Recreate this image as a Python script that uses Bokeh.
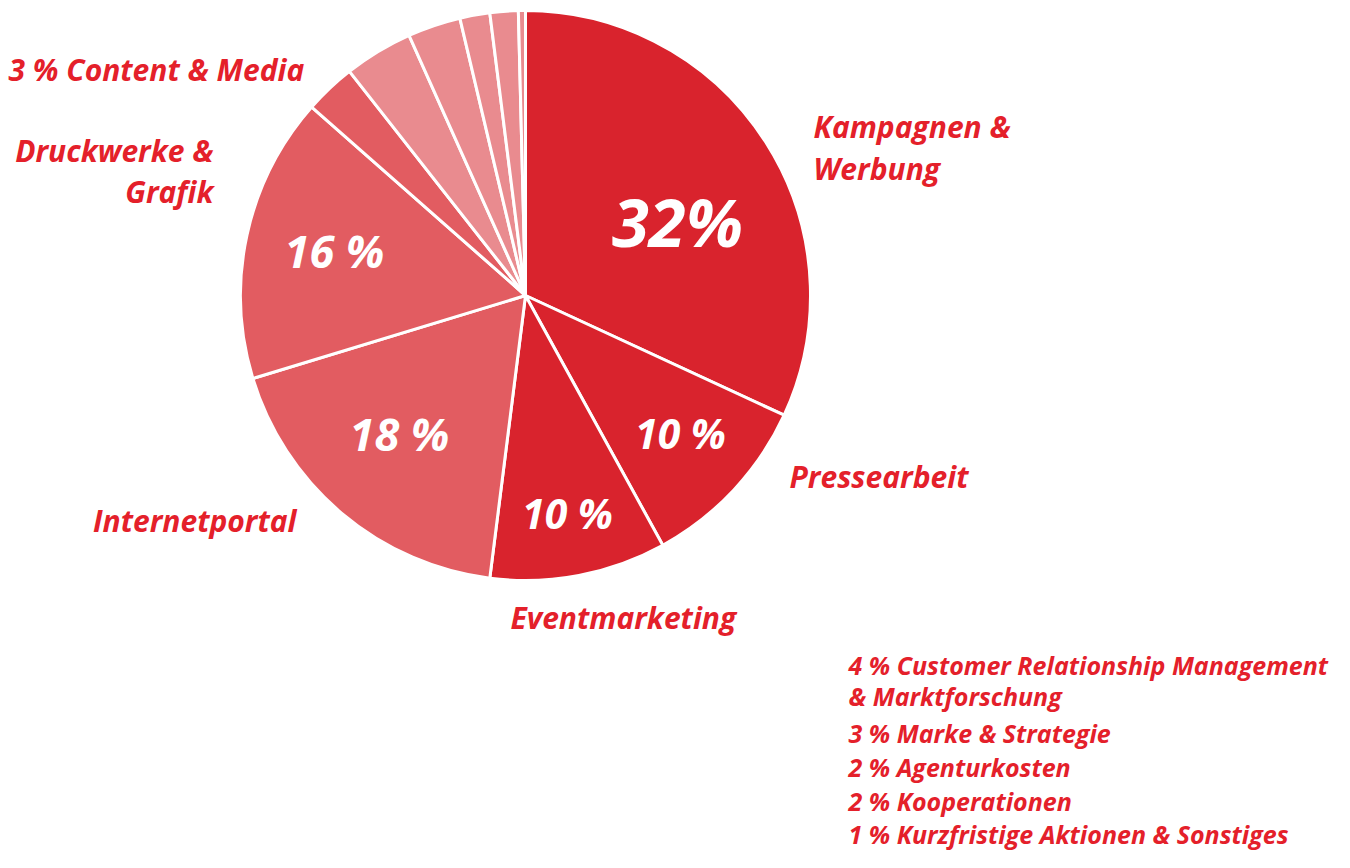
import math
from bokeh.plotting import figure
from bokeh.models import ColumnDataSource, Range1d
from bokeh.core.properties import value
from bokeh.embed import file_html
from bokeh.resources import INLINE

# ---- data ----
categories = ["Kampagnen & Werbung", "Pressearbeit", "Eventmarketing", "Internetportal",
              "Druckwerke & Grafik", "Content & Media",
              "Customer Relationship Management & Marktforschung", "Marke & Strategie",
              "Agenturkosten", "Kooperationen", "Kurzfristige Aktionen & Sonstiges"]
shares = [31.9, 10.1, 10.0, 18.3, 16.2, 2.9, 3.9, 3.0, 1.7, 1.6, 0.4]
shown_pct = [32, 10, 10, 18, 16, 3, 4, 3, 2, 2, 1]
tone = ["dark", "dark", "dark", "mid", "mid", "mid", "light", "light", "light", "light", "light"]

# ---- style ----
W, H = 1334, 852
palette = {"dark": "#D9232D", "mid": "#E25C61", "light": "#E98B8F"}
TXT = "#E4202A"
FONT = "Open Sans"


def P(px, py):
    """picture pixel (top-left origin) -> data coordinates"""
    return px, H - py


CX, CY = P(525, 295)
R = 285

p = figure(width=W, height=H, output_backend="svg", toolbar_location=None,
           x_range=Range1d(0, W), y_range=Range1d(0, H), min_border=0)
p.axis.visible = False
p.grid.visible = False
p.outline_line_color = None
p.background_fill_color = "white"

total = sum(shares)
starts, ends = [], []
cum = 0.0
for s in shares:
    starts.append(math.pi / 2 - 2 * math.pi * cum / total)
    cum += s
    ends.append(math.pi / 2 - 2 * math.pi * cum / total)

src = ColumnDataSource(dict(x=[CX] * len(shares), y=[CY] * len(shares),
                            start=starts, end=ends, color=[palette[t] for t in tone]))
p.wedge(x="x", y="y", radius=R, start_angle="start", end_angle="end", direction="clock",
        fill_color="color", line_color="white", line_width=3, source=src)

# inner percentage labels (first five slices)
inner_pos = [(677, 220), (680, 432), (567, 512), (399, 433), (334, 250)]
sizes = ["67px", "41px", "41px", "45px", "45px"]
for i in range(5):
    txt = f"{shown_pct[i]}%" if i == 0 else f"{shown_pct[i]} %"
    x, y = P(*inner_pos[i])
    p.text(x=[x], y=[y], text=[txt], text_color="white", text_font=value(FONT),
           text_font_style="bold italic", text_font_size=sizes[i],
           text_align="center", text_baseline="middle")

# outer labels
outer = [
    ("Kampagnen &", 813, 126, "left"), ("Werbung", 813, 168, "left"),
    ("Pressearbeit", 789, 476, "left"),
    ("Eventmarketing", 510, 617, "left"),
    ("Internetportal", 296, 520, "right"),
    ("Druckwerke &", 213, 150, "right"), ("Grafik", 213, 191, "right"),
    (f"{shown_pct[5]} % {categories[5]}", 8, 69, "left"),
]
for t, px, py, al in outer:
    x, y = P(px, py)
    p.text(x=[x], y=[y], text=[t], text_color=TXT, text_font=value(FONT),
           text_font_style="bold italic", text_font_size="30px",
           text_align=al, text_baseline="alphabetic")

legend_lines = [
    (f"{shown_pct[6]} % Customer Relationship Management", 664),
    ("& Marktforschung", 695),
    (f"{shown_pct[7]} % {categories[7]}", 732),
    (f"{shown_pct[8]} % {categories[8]}", 766),
    (f"{shown_pct[9]} % {categories[9]}", 800),
    (f"{shown_pct[10]} % {categories[10]}", 833),
]
for t, py in legend_lines:
    x, y = P(848, py)
    p.text(x=[x], y=[y], text=[t], text_color=TXT, text_font=value(FONT),
           text_font_style="bold italic", text_font_size="25px",
           text_align="left", text_baseline="alphabetic")

open("out.html", "w").write(file_html(p, INLINE))
